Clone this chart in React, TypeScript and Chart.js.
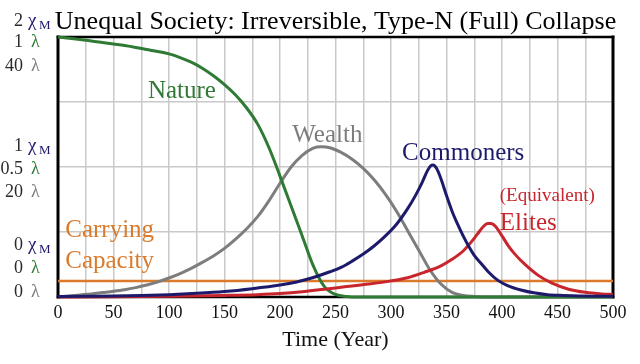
import React, { useEffect, useRef } from 'react';
import { Chart, registerables } from 'chart.js';

Chart.register(...registerables);

// ---- data ----
const yearTicks = [0, 25, 50, 75, 100, 125, 150, 175, 200, 225, 250, 275, 300, 325, 350, 375, 400, 425, 450, 475, 500];

// Nature (λ, 0..1)
const natureYears = [0, 10, 20, 30, 40, 50, 60, 70, 80, 90, 100, 110, 120, 130, 140, 150, 160, 170, 180, 190, 200, 210, 220, 230, 240, 250, 260, 270, 500];
const natureValues = [1.0, 0.995, 0.99, 0.985, 0.979, 0.973, 0.967, 0.96, 0.952, 0.944, 0.935, 0.921, 0.903, 0.88, 0.851, 0.817, 0.777, 0.727, 0.664, 0.575, 0.465, 0.35, 0.235, 0.12, 0.04, 0.01, 0.002, 0, 0];

// Wealth (λ, 0..40)
const wealthYears = [0, 10, 20, 30, 40, 50, 60, 70, 80, 90, 100, 110, 120, 130, 140, 150, 160, 170, 180, 190, 200, 210, 220, 230, 237, 245, 255, 265, 275, 285, 295, 305, 315, 325, 335, 345, 355, 365, 375, 390, 500];
const wealthValues = [0, 0.16, 0.32, 0.48, 0.68, 0.88, 1.12, 1.44, 1.84, 2.32, 2.92, 3.6, 4.4, 5.32, 6.32, 7.48, 8.9, 10.5, 12.4, 14.8, 17.5, 20.0, 21.8, 22.9, 23.1, 22.96, 22.24, 21.2, 19.8, 18.0, 15.8, 13.2, 10.2, 7.2, 4.2, 2.0, 0.72, 0.24, 0.08, 0, 0];

// Commoners (χM, 0..2)
const commonerYears = [0, 25, 50, 75, 100, 125, 150, 175, 200, 215, 230, 245, 255, 265, 275, 285, 295, 305, 315, 322, 328, 333, 336, 338, 341, 345, 350, 355, 360, 365, 370, 375, 381, 388, 396, 405, 417, 430, 441, 455, 470, 500];
const commonerValues = [0.004, 0.006, 0.008, 0.012, 0.018, 0.028, 0.042, 0.064, 0.092, 0.116, 0.15, 0.194, 0.228, 0.276, 0.33, 0.394, 0.47, 0.56, 0.68, 0.78, 0.88, 0.974, 1.01, 1.016, 0.99, 0.91, 0.78, 0.66, 0.56, 0.47, 0.39, 0.32, 0.26, 0.19, 0.13, 0.088, 0.054, 0.03, 0.018, 0.012, 0.008, 0.006];

// Elites (χM, 0..2)
const eliteYears = [0, 50, 100, 150, 180, 200, 220, 240, 260, 280, 300, 315, 330, 345, 355, 365, 372, 378, 383, 387, 390, 394, 400, 406, 412, 420, 432, 445, 460, 475, 490, 500];
const eliteValues = [0, 0.002, 0.006, 0.012, 0.018, 0.026, 0.04, 0.06, 0.08, 0.1, 0.124, 0.148, 0.19, 0.24, 0.29, 0.354, 0.42, 0.486, 0.54, 0.566, 0.566, 0.544, 0.47, 0.39, 0.326, 0.256, 0.17, 0.106, 0.06, 0.036, 0.024, 0.02];

// Carrying capacity (λ, 0..1)
const capacityYears = [0, 500];
const capacityValues = [0.0615, 0.0615];

// left-hand multi-scale tick labels
const chiTicks = ['2', '1', '0'];
const chiTickValues = [2, 1, 0];
const natureTicks = ['1', '0.5', '0'];
const wealthTicks = ['40', '20', '0'];

const TITLE = 'Unequal Society: Irreversible, Type-N (Full) Collapse';
const X_TITLE = 'Time (Year)';

// ---- styles ----
const FONT = "'Liberation Serif', 'Times New Roman', serif";
const GREEN = '#2f7a34';
const GRAY = '#7d7d7d';
const NAVY = '#1d1a6c';
const RED = '#c8262c';
const ORANGE = '#d97a2c';
const GRID = '#c9c9c9';

const pts = (xs: number[], ys: number[]) => xs.map((x, i) => ({ x, y: ys[i] }));

const decorPlugin = {
  id: 'decor',
  beforeDatasetsDraw(chart: any) {
    const { ctx, chartArea: a } = chart;
    ctx.save();
    ctx.strokeStyle = '#000';
    ctx.lineCap = 'square';
    ctx.lineWidth = 3;
    ctx.beginPath();
    ctx.moveTo(a.left, a.bottom);
    ctx.lineTo(a.left, a.top);
    ctx.moveTo(a.right, a.top);
    ctx.lineTo(a.right, a.bottom);
    ctx.stroke();
    ctx.lineWidth = 2.5;
    ctx.beginPath();
    ctx.moveTo(a.left, a.top);
    ctx.lineTo(a.right, a.top);
    ctx.moveTo(a.left, a.bottom);
    ctx.lineTo(a.right, a.bottom);
    ctx.stroke();
    ctx.restore();
  },
  afterDraw(chart: any) {
    const { ctx, chartArea: a, scales } = chart;
    const yC = scales.yC;
    const xs = scales.x;
    ctx.save();
    // title
    ctx.fillStyle = '#000';
    ctx.font = `26px ${FONT}`;
    ctx.textAlign = 'center';
    ctx.textBaseline = 'alphabetic';
    ctx.fillText(TITLE, (a.left + a.right) / 2, 29);

    // left tick groups
    const offsets = [[-11, 10, 34], [-16, 7, 30], [-47, -24, 0]];
    for (let g = 0; g < 3; g++) {
      const base = yC.getPixelForValue(chiTickValues[g]);
      const rows = [
        { num: chiTicks[g], sym: 'χ', color: NAVY, sub: true },
        { num: natureTicks[g], sym: 'λ', color: GREEN, sub: false },
        { num: wealthTicks[g], sym: 'λ', color: GRAY, sub: false },
      ];
      rows.forEach((r, i) => {
        const y = base + offsets[g][i];
        ctx.font = `18px ${FONT}`;
        ctx.textAlign = 'right';
        ctx.fillStyle = '#2a2a2a';
        ctx.fillText(r.num, 23, y);
        ctx.textAlign = 'left';
        ctx.fillStyle = r.color;
        if (r.sub) {
          ctx.font = `19px ${FONT}`;
          ctx.fillText(r.sym, 28, y);
          ctx.font = `13px ${FONT}`;
          ctx.fillText('M', 39, y + 2.5);
        } else {
          ctx.font = `18px ${FONT}`;
          ctx.fillText(r.sym, 31, y);
        }
      });
    }

    // in-plot labels (positioned via data coordinates)
    const lbl = (text: string, xv: number, yv: number, color: string, size: number) => {
      ctx.font = `${size}px ${FONT}`;
      ctx.fillStyle = color;
      ctx.textAlign = 'left';
      ctx.fillText(text, xs.getPixelForValue(xv), yC.getPixelForValue(yv));
    };
    lbl('Nature', 81, 1.534, GREEN, 25);
    lbl('Wealth', 211, 1.195, GRAY, 25);
    lbl('Commoners', 310, 1.054, NAVY, 25);
    lbl('(Equivalent)', 398, 0.739, RED, 19);
    lbl('Elites', 398, 0.515, RED, 25);
    lbl('Carrying', 6.5, 0.464, ORANGE, 25);
    lbl('Capacity', 6.5, 0.221, ORANGE, 25);
    ctx.restore();
  },
};

export default function App() {
  const ref = useRef<HTMLCanvasElement | null>(null);
  useEffect(() => {
    if (!ref.current) return;
    const line = (label: string, xs: number[], ys: number[], axis: string, color: string, w: number, mono = true) => ({
      label,
      data: pts(xs, ys),
      yAxisID: axis,
      borderColor: color,
      backgroundColor: color,
      borderWidth: w,
      pointRadius: 0,
      fill: false,
      clip: 6,
      cubicInterpolationMode: mono ? 'monotone' : 'default',
      tension: mono ? 0.4 : 0,
    });
    const chart = new Chart(ref.current, {
      type: 'line',
      data: {
        datasets: [
          line('Commoners', commonerYears, commonerValues, 'yC', NAVY, 3),
          line('Elites', eliteYears, eliteValues, 'yC', RED, 3),
          line('Nature', natureYears, natureValues, 'yN', GREEN, 3),
          line('Wealth', wealthYears, wealthValues, 'yW', GRAY, 3),
          line('Carrying Capacity', capacityYears, capacityValues, 'yN', ORANGE, 2.5, false),
        ] as any,
      },
      options: {
        animation: false,
        responsive: false,
        devicePixelRatio: 1,
        layout: { padding: { left: 58, right: 27, top: 37, bottom: 0 } },
        plugins: { legend: { display: false }, tooltip: { enabled: false }, title: { display: false } },
        scales: {
          x: {
            type: 'linear',
            min: 0,
            max: 500,
            afterBuildTicks: (s: any) => { s.ticks = yearTicks.map((v) => ({ value: v })); },
            ticks: {
              autoSkip: false,
              maxRotation: 0,
              minRotation: 0,
              padding: 7,
              color: '#111',
              font: { family: FONT, size: 18, lineHeight: 1 },
              callback: (v: any) => (Number(v) % 50 === 0 ? String(v) : ''),
            },
            grid: { color: GRID, lineWidth: 1.5, drawTicks: false, tickLength: 0 },
            border: { display: false },
            title: { display: true, text: X_TITLE, color: '#111', font: { family: FONT, size: 22, lineHeight: 1 }, padding: { top: 0, bottom: 13 } },
          },
          yC: {
            type: 'linear',
            position: 'left',
            min: 0,
            max: 2,
            ticks: { display: false, stepSize: 0.5 },
            grid: { color: GRID, lineWidth: 1.5, drawTicks: false, tickLength: 0 },
            border: { display: false },
          },
          yN: { type: 'linear', display: false, min: 0, max: 1 },
          yW: { type: 'linear', display: false, min: 0, max: 40 },
        },
      } as any,
      plugins: [decorPlugin],
    });
    return () => chart.destroy();
  }, []);
  return (
    <div style={{ position: 'fixed', left: 0, top: 0, width: 640, height: 364, background: '#fff' }}>
      <canvas ref={ref} width={640} height={364} style={{ display: 'block' }} />
    </div>
  );
}
